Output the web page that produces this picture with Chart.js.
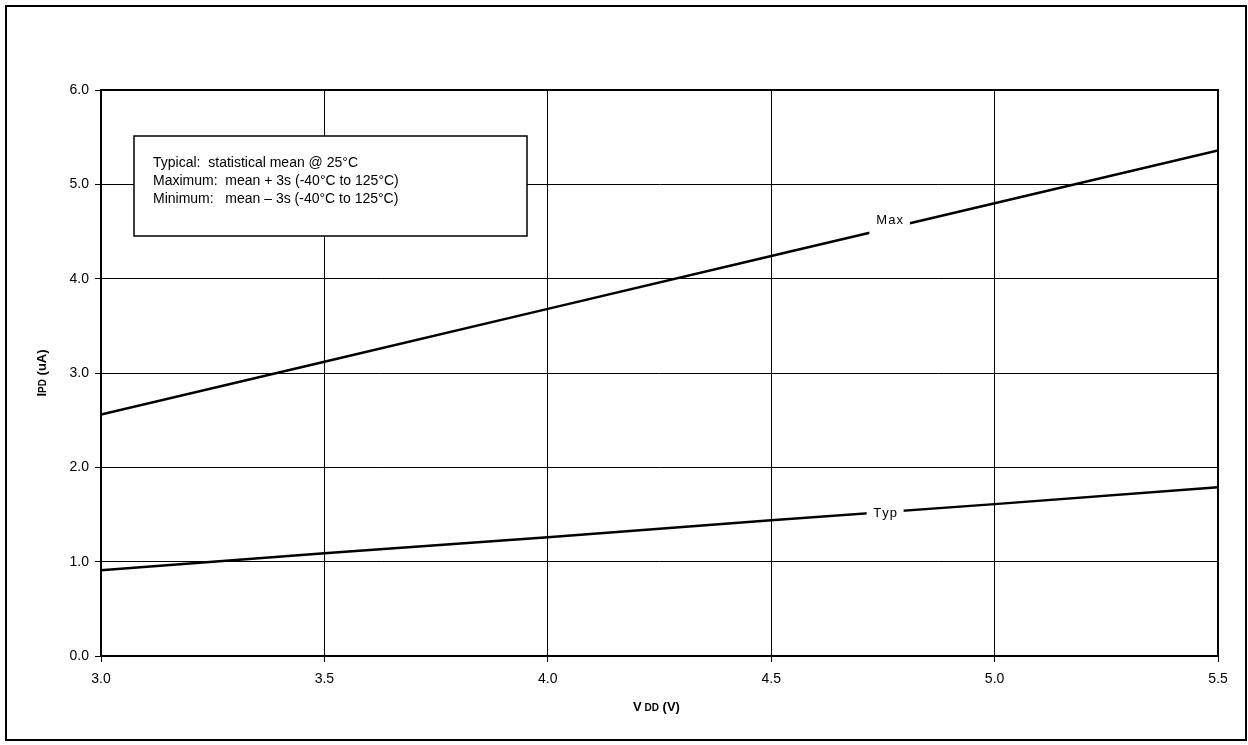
<!DOCTYPE html>
<html>
<head>
<meta charset="utf-8">
<script src="https://cdn.jsdelivr.net/npm/chart.js@4.4.0/dist/chart.umd.min.js"></script>
<style>
  html, body { margin: 0; padding: 0; background: #fff; }
  #wrap { width: 1248px; height: 745px; }
</style>
</head>
<body>
<div id="wrap"><canvas id="chart" width="1248" height="745"></canvas></div>
<script>
// values
const vdd = [3.0, 3.5, 4.0, 4.5, 5.0, 5.5];
const maxVals = [2.56, 3.12, 3.68, 4.24, 4.80, 5.36];
const typVals = [0.91, 1.09, 1.26, 1.44, 1.61, 1.79];
const yTicks = [0, 1, 2, 3, 4, 5, 6];
const noteLines = [
    'Typical:  statistical mean @ 25°C',
    'Maximum:  mean + 3s (-40°C to 125°C)',
    'Minimum:   mean \u2013 3s (-40°C to 125°C)'
];
// inline labels on the curves: [text, x value, dataset index, text offset]
const curveLabels = [['Max', 4.765, 0, -8], ['Typ', 4.755, 1, 1]];

const FONT = '"Liberation Sans", Arial, sans-serif';

function pts(xs, ys) {
    return xs.map((x, i) => ({ x: x, y: ys[i] }));
}

function valueAt(data, x) {
    for (let i = 0; i < data.length - 1; i++) {
        if (x >= data[i].x && x <= data[i + 1].x) {
            const t = (x - data[i].x) / (data[i + 1].x - data[i].x);
            return data[i].y + t * (data[i + 1].y - data[i].y);
        }
    }
    return data[data.length - 1].y;
}

const decor = {
    id: 'decor',
    afterDraw(chart) {
        const ctx = chart.ctx;
        const a = chart.chartArea;
        const xs = chart.scales.x, ys = chart.scales.y;
        ctx.save();
        // outer frame
        ctx.strokeStyle = '#000';
        ctx.lineWidth = 2;
        ctx.strokeRect(6, 6, 1240, 734);
        // plot frame
        ctx.strokeRect(a.left, a.top, a.right - a.left, a.bottom - a.top);

        // labels on the curves
        ctx.font = '13px ' + FONT;
        ctx.textAlign = 'center';
        ctx.textBaseline = 'middle';
        curveLabels.forEach(([txt, xv, di, off]) => {
            const d = chart.data.datasets[di].data;
            const px = xs.getPixelForValue(xv);
            const py = ys.getPixelForValue(valueAt(d, xv));
            const w = ctx.measureText(txt).width + 16;
            ctx.fillStyle = '#fff';
            ctx.fillRect(px - w / 2, py - 9, w, 18);
            ctx.fillStyle = '#000';
            ctx.fillText(txt.split('').join('\u200A'), px, py + off);
        });

        // note box
        ctx.fillStyle = '#fff';
        ctx.fillRect(134, 136, 393, 100);
        ctx.lineWidth = 1.5;
        ctx.strokeRect(134, 136, 393, 100);
        ctx.fillStyle = '#000';
        ctx.font = '14px ' + FONT;
        ctx.textAlign = 'left';
        ctx.textBaseline = 'middle';
        noteLines.forEach((t, i) => ctx.fillText(t, 153, 163 + i * 18));

        // axis titles with smaller subscripts
        drawParts(ctx, [['V', 13], [' DD', 10], [' (V)', 13]], (a.left + a.right) / 2 - 3, 706);
        ctx.translate(41, (a.top + a.bottom) / 2);
        ctx.rotate(-Math.PI / 2);
        drawParts(ctx, [['I', 13], ['PD', 10], [' (uA)', 13]], 0, 0);
        ctx.restore();
    }
};

function drawParts(ctx, parts, cx, cy) {
    let total = 0;
    parts.forEach(([t, s]) => { ctx.font = 'bold ' + s + 'px ' + FONT; total += ctx.measureText(t).width; });
    let x = cx - total / 2;
    ctx.textAlign = 'left';
    ctx.textBaseline = 'alphabetic';
    parts.forEach(([t, s]) => {
        ctx.font = 'bold ' + s + 'px ' + FONT;
        ctx.fillText(t, x, cy + 5);
        x += ctx.measureText(t).width;
    });
}

new Chart(document.getElementById('chart'), {
    type: 'line',
    data: {
        datasets: [
            { label: 'Max', data: pts(vdd, maxVals), borderColor: '#000', borderWidth: 2.5, pointRadius: 0, tension: 0 },
            { label: 'Typ', data: pts(vdd, typVals), borderColor: '#000', borderWidth: 2.5, pointRadius: 0, tension: 0 }
        ]
    },
    options: {
        responsive: false,
        animation: false,
        layout: { padding: { left: 41, right: 30, top: 90, bottom: 29 } },
        plugins: { legend: { display: false }, tooltip: { enabled: false } },
        scales: {
            x: {
                type: 'linear',
                min: 3, max: 5.5,
                afterFit: s => { s.height = 60; },
                ticks: {
                    stepSize: 0.5,
                    color: '#000',
                    font: { family: FONT, size: 14 },
                    padding: 9,
                    maxRotation: 0,
                    callback: v => Number(v).toFixed(1)
                },
                grid: { color: '#000', lineWidth: 1, tickLength: 6 },
                border: { display: false }
            },
            y: {
                min: 0, max: 6,
                afterFit: s => { s.width = 60; },
                afterBuildTicks: s => { s.ticks = yTicks.map(v => ({ value: v })); },
                ticks: {
                    color: '#000',
                    font: { family: FONT, size: 14 },
                    padding: 6,
                    callback: v => Number(v).toFixed(1)
                },
                grid: { color: '#000', lineWidth: 1, tickLength: 6 },
                border: { display: false }
            }
        }
    },
    plugins: [decor]
});
</script>
</body>
</html>
